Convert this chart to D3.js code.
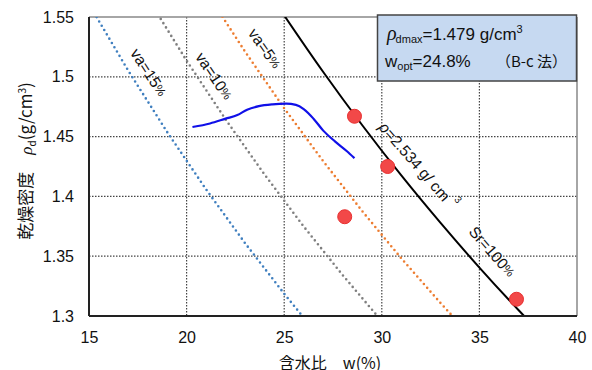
<!DOCTYPE html>
<html><head><meta charset="utf-8">
<script src="https://cdn.jsdelivr.net/npm/d3@7"></script>
<style>
body{margin:0;background:#fff;}
svg{display:block;font-family:"Liberation Sans","Noto Sans CJK JP",Arial,sans-serif;}
</style></head>
<body><svg id="c" width="592" height="370"></svg>
<script>
// ---- data ----
const xTicks = [15, 20, 25, 30, 35, 40];
const yTicks = [1.3, 1.35, 1.4, 1.45, 1.5, 1.55];
const yTickLabels = ["1.3", "1.35", "1.4", "1.45", "1.5", "1.55"];

// compaction curve
const curveW   = [20.3, 21.2, 22.0, 22.6, 23.1, 23.7, 24.4, 25.1, 25.6, 26.0, 26.5, 27.0, 27.6, 28.2, 28.6];
const curveRho = [1.458, 1.461, 1.465, 1.468, 1.4725, 1.4755, 1.477, 1.4775, 1.4765, 1.473, 1.465, 1.455, 1.446, 1.438, 1.432];

// measured points
const pointW   = [28.6, 30.3, 28.1, 36.9];
const pointRho = [1.467, 1.425, 1.383, 1.314];

// zero-air-void (Sr=100%) and air-content curves
const satW   = [24.5, 25, 27, 29, 31, 33, 35, 37, 38];
const satRho = [1.5634, 1.5513, 1.5040, 1.4595, 1.4175, 1.3780, 1.3405, 1.3050, 1.2880];
const va5W   = [21, 23, 25, 27, 29, 31, 33, 34];
const va5Rho = [1.5712, 1.5209, 1.4737, 1.4294, 1.3876, 1.3482, 1.3110, 1.2932];
const va10W  = [18, 20, 22, 24, 26, 28, 30];
const va10Rho= [1.5662, 1.5135, 1.4643, 1.4181, 1.3748, 1.3341, 1.2956];
const va15W  = [15, 17, 19, 21, 23, 25, 26.5];
const va15Rho= [1.5607, 1.5054, 1.4539, 1.4058, 1.3608, 1.3186, 1.2886];

// ---- chart ----
const svg = d3.select("#c");
const L = 89, R = 577, T = 17, B = 316;
const x = d3.scaleLinear().domain([15, 40]).range([L, R]);
const y = d3.scaleLinear().domain([1.3, 1.55]).range([B, T]);

svg.append("defs").append("clipPath").attr("id","clip")
  .append("rect").attr("x", L).attr("y", T).attr("width", R-L).attr("height", B-T);

// grid
const g = svg.append("g");
g.selectAll(".vg").data(xTicks.slice(1,-1)).enter().append("line")
  .attr("x1", d=>x(d)).attr("x2", d=>x(d)).attr("y1", T).attr("y2", B)
  .attr("stroke", "#444").attr("stroke-width", 1.2).attr("stroke-dasharray", "1.5,1.5");
g.selectAll(".hg").data(yTicks.slice(1,-1)).enter().append("line")
  .attr("y1", d=>y(d)).attr("y2", d=>y(d)).attr("x1", L).attr("x2", R)
  .attr("stroke", "#444").attr("stroke-width", 1.2).attr("stroke-dasharray", "1.5,1.5");

// frame
svg.append("line").attr("x1", L).attr("x2", R).attr("y1", T).attr("y2", T).attr("stroke", "#888").attr("stroke-width", 1.5);
svg.append("line").attr("x1", R).attr("x2", R).attr("y1", T).attr("y2", B).attr("stroke", "#888").attr("stroke-width", 1.5);

const line = d3.line().x(d=>x(d[0])).y(d=>y(d[1]));
const plot = svg.append("g").attr("clip-path", "url(#clip)");

function dotted(ws, rs, color){
  plot.append("path").datum(ws.map((w,i)=>[w, rs[i]]))
    .attr("d", line).attr("fill","none").attr("stroke", color)
    .attr("stroke-width", 2.6).attr("stroke-linecap","round").attr("stroke-dasharray","0,5");
}
dotted(va15W, va15Rho, "#3f7fbf");
dotted(va10W, va10Rho, "#7f7f7f");
dotted(va5W, va5Rho, "#ed7d31");

plot.append("path").datum(satW.map((w,i)=>[w, satRho[i]]))
  .attr("d", d3.line().x(d=>x(d[0])).y(d=>y(d[1])).curve(d3.curveMonotoneX))
  .attr("fill","none").attr("stroke","#000").attr("stroke-width",2);

plot.append("path").datum(curveW.map((w,i)=>[w, curveRho[i]]))
  .attr("d", d3.line().x(d=>x(d[0])).y(d=>y(d[1])).curve(d3.curveMonotoneX))
  .attr("fill","none").attr("stroke","#1010e8").attr("stroke-width",2.2);

plot.selectAll(".pt").data(pointW.map((w,i)=>[w, pointRho[i]])).enter().append("circle")
  .attr("cx", d=>x(d[0])).attr("cy", d=>y(d[1])).attr("r", 7)
  .attr("fill", "#f24848").attr("stroke", "#e83030").attr("stroke-width", 1);

// axes lines
svg.append("line").attr("x1", L).attr("x2", L).attr("y1", T).attr("y2", B).attr("stroke", "#222").attr("stroke-width", 2);
svg.append("line").attr("x1", L).attr("x2", R).attr("y1", B).attr("y2", B).attr("stroke", "#222").attr("stroke-width", 2);

// axis tick labels
const xa = svg.append("g").attr("transform", `translate(0,${B})`)
  .call(d3.axisBottom(x).tickValues(xTicks).tickSize(0).tickPadding(16).tickFormat(d3.format("d")));
xa.select(".domain").remove();
xa.selectAll("text").attr("font-size", 16).attr("fill", "#111").attr("font-family", "Liberation Sans, Arial, sans-serif");

const ya = svg.append("g").attr("transform", `translate(${L},0)`)
  .call(d3.axisLeft(y).tickValues(yTicks).tickSize(0).tickPadding(15).tickFormat((d,i)=>yTickLabels[i]));
ya.select(".domain").remove();
ya.selectAll("text").attr("font-size", 16).attr("fill", "#111").attr("font-family", "Liberation Sans, Arial, sans-serif");

// axis titles
svg.append("text").attr("x", 330).attr("y", 369).attr("text-anchor","middle")
  .attr("font-size", 16).attr("fill","#111").attr("font-family","Noto Sans CJK JP, sans-serif")
  .text("含水比　w(%)");

const yl = svg.append("text").attr("transform","translate(32,161) rotate(-90)").attr("text-anchor","middle")
  .attr("font-size", 17).attr("fill","#111").attr("font-family","Noto Sans CJK JP, sans-serif");
yl.append("tspan").text("乾燥密度　");
yl.append("tspan").attr("font-style","italic").attr("font-family","Liberation Serif, serif").text("ρ");
yl.append("tspan").attr("font-size", 10).attr("dy", 4).text("d");
yl.append("tspan").attr("dy", -4).text("(g/cm");
yl.append("tspan").attr("font-size", 10).attr("dy", -6).text("3");
yl.append("tspan").attr("dy", 6).text(")");

// curve labels
const lblFont = "Liberation Sans, Arial, sans-serif";
function lbl(w, r, ang, parts){
  const t = svg.append("text").attr("transform", `translate(${x(w)},${y(r)}) rotate(${ang})`)
    .attr("text-anchor","middle").attr("dominant-baseline","middle")
    .attr("font-size", 15.5).attr("fill","#111").attr("font-family", lblFont);
  parts.forEach(p=>{
    const s = t.append("tspan").text(p.t);
    if (p.fs) s.attr("font-size", p.fs);
    if (p.dy) s.attr("dy", p.dy);
    if (p.it) s.attr("font-style","italic");
    if (p.dx) s.attr("dx", p.dx);
  });
}
lbl(18.0, 1.503, 57, [{t:"va=15"},{t:"%", fs:12}]);
lbl(21.35, 1.500, 56, [{t:"va=10"},{t:"%", fs:12}]);
lbl(23.95, 1.523, 55, [{t:"va=5"},{t:"%", fs:12}]);
lbl(31.8, 1.425, 49, [{t:"ρ", it:true},{t:"=2.534 g/ cm"},{t:"3", fs:10, dy:-9, dx:5}]);
lbl(35.6, 1.353, 49, [{t:"Sr=100"},{t:"%", fs:12}]);

// info box
svg.append("rect").attr("x", 377.5).attr("y", 15).attr("width", 199).attr("height", 66)
  .attr("fill", "#c6d9f1").attr("stroke", "#444").attr("stroke-width", 1.5);
const t1 = svg.append("text").attr("x", 387).attr("y", 40).attr("font-size", 17).attr("fill","#111");
t1.append("tspan").attr("font-style","italic").attr("font-family","Liberation Serif, serif").attr("font-size", 20).text("ρ");
t1.append("tspan").attr("font-size", 11).attr("dy", 3).attr("dx", -1).text("dmax");
t1.append("tspan").attr("dy", -3).text("=1.479 g/cm");
t1.append("tspan").attr("font-size", 11).attr("dy", -7).text("3");
const t2 = svg.append("text").attr("x", 385).attr("y", 67).attr("font-size", 17).attr("fill","#111");
t2.append("tspan").text("w");
t2.append("tspan").attr("font-size", 11).attr("dy", 3).text("opt");
t2.append("tspan").attr("dy", -3).text("=24.8%");
t2.append("tspan").attr("x", 496).attr("font-size", 15).attr("font-family","Noto Sans CJK JP, sans-serif").text("（B-c 法）");
</script></body></html>
